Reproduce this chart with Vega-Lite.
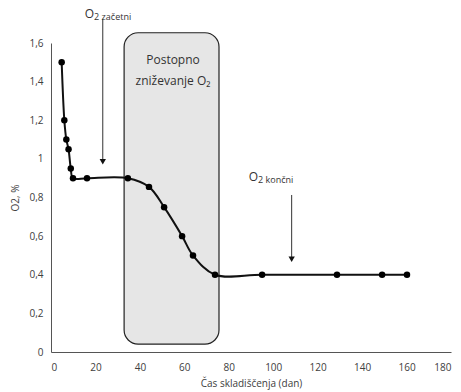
{
  "$schema": "https://vega.github.io/schema/vega-lite/v6.json",
  "width": 400,
  "height": 309,
  "autosize": {"type": "none"},
  "padding": {"left": 51, "top": 43, "right": 10, "bottom": 40},
  "background": "white",
  "config": {
    "view": {"stroke": null},
    "font": "Open Sans",
    "axis": {"labelFont": "Open Sans", "titleFont": "Open Sans", "labelColor": "#404040", "titleColor": "#404040", "labelFontSize": 10, "titleFontSize": 10, "titleFontWeight": "normal", "domainColor": "#555555", "grid": false, "ticks": false, "labelOverlap": false}
  },
  "datasets": {
    "o2": [
      {"dan": 4.8, "o2": 1.5},
      {"dan": 6.0, "o2": 1.2},
      {"dan": 6.9, "o2": 1.1},
      {"dan": 7.9, "o2": 1.05},
      {"dan": 8.9, "o2": 0.95},
      {"dan": 9.9, "o2": 0.9},
      {"dan": 16.2, "o2": 0.9},
      {"dan": 34.6, "o2": 0.9},
      {"dan": 44.1, "o2": 0.855},
      {"dan": 50.9, "o2": 0.75},
      {"dan": 59.0, "o2": 0.6},
      {"dan": 63.9, "o2": 0.5},
      {"dan": 73.8, "o2": 0.4},
      {"dan": 95.0, "o2": 0.4},
      {"dan": 128.7, "o2": 0.4},
      {"dan": 149.0, "o2": 0.4},
      {"dan": 160.2, "o2": 0.4}
    ],
    "box": [{"x1": 32.9, "x2": 75.6, "y1": 0.041, "y2": 1.653}],
    "arrows": [
      {"x": 23.3, "ytop": 1.725, "ybot": 0.985},
      {"x": 108.3, "ytop": 0.813, "ybot": 0.48}
    ],
    "boxtext": [
      {"x": 54.9, "y": 1.513, "t": "Postopno"},
      {"x": 54.9, "y": 1.404, "t": "zniževanje O₂"}
    ],
    "labels": [
      {"x": 19.4, "y": 1.75, "big": "O", "small": "2 začetni"},
      {"x": 93.2, "y": 0.907, "big": "O", "small": "2 končni"}
    ]
  },
  "layer": [
    {
      "data": {"name": "box"},
      "mark": {"type": "rect", "fill": "#e6e6e6", "stroke": "#222222", "strokeWidth": 1.2, "cornerRadius": 14},
      "encoding": {
        "x": {"field": "x1", "type": "quantitative", "scale": {"domain": [0, 180], "nice": false},
          "axis": {"values": [0, 20, 40, 60, 80, 100, 120, 140, 160, 180], "labelOverlap": false, "labelPadding": 10, "titlePadding": 6, "title": "Čas skladiščenja (dan)"}},
        "x2": {"field": "x2"},
        "y": {"field": "y1", "type": "quantitative", "scale": {"domain": [0, 1.6], "nice": false},
          "axis": {"tickCount": 8, "format": "~g", "labelOverlap": false, "labelSeparation": 0, "labelBound": false, "labelExpr": "replace(datum.label, '.', ',')", "labelPadding": 8, "titlePadding": 8, "title": "O2, %"}},
        "y2": {"field": "y2"}
      }
    },
    {
      "data": {"name": "o2"},
      "mark": {"type": "line", "color": "#111111", "strokeWidth": 2, "interpolate": "catmull-rom"},
      "encoding": {
        "x": {"field": "dan", "type": "quantitative"},
        "y": {"field": "o2", "type": "quantitative"}
      }
    },
    {
      "data": {"name": "o2"},
      "mark": {"type": "point", "filled": true, "color": "#000000", "opacity": 1, "size": 42},
      "encoding": {
        "x": {"field": "dan", "type": "quantitative"},
        "y": {"field": "o2", "type": "quantitative"}
      }
    },
    {
      "data": {"name": "arrows"},
      "mark": {"type": "rule", "color": "#333333", "strokeWidth": 1},
      "encoding": {
        "x": {"field": "x", "type": "quantitative"},
        "y": {"field": "ytop", "type": "quantitative"},
        "y2": {"field": "ybot"}
      }
    },
    {
      "data": {"name": "arrows"},
      "mark": {"type": "point", "shape": "triangle-down", "filled": true, "color": "#111111", "opacity": 1, "size": 40},
      "encoding": {
        "x": {"field": "x", "type": "quantitative"},
        "y": {"field": "ybot", "type": "quantitative"}
      }
    },
    {
      "data": {"name": "boxtext"},
      "mark": {"type": "text", "fontSize": 12, "color": "#333333", "align": "center", "baseline": "middle"},
      "encoding": {
        "x": {"field": "x", "type": "quantitative"},
        "y": {"field": "y", "type": "quantitative"},
        "text": {"field": "t"}
      }
    },
    {
      "data": {"name": "labels"},
      "mark": {"type": "text", "fontSize": 12, "color": "#333333", "align": "right", "baseline": "middle"},
      "encoding": {
        "x": {"field": "x", "type": "quantitative"},
        "y": {"field": "y", "type": "quantitative"},
        "text": {"field": "big"}
      }
    },
    {
      "data": {"name": "labels"},
      "mark": {"type": "text", "fontSize": 9, "color": "#333333", "align": "left", "baseline": "middle", "dy": 3},
      "encoding": {
        "x": {"field": "x", "type": "quantitative"},
        "y": {"field": "y", "type": "quantitative"},
        "text": {"field": "small"}
      }
    }
  ]
}
